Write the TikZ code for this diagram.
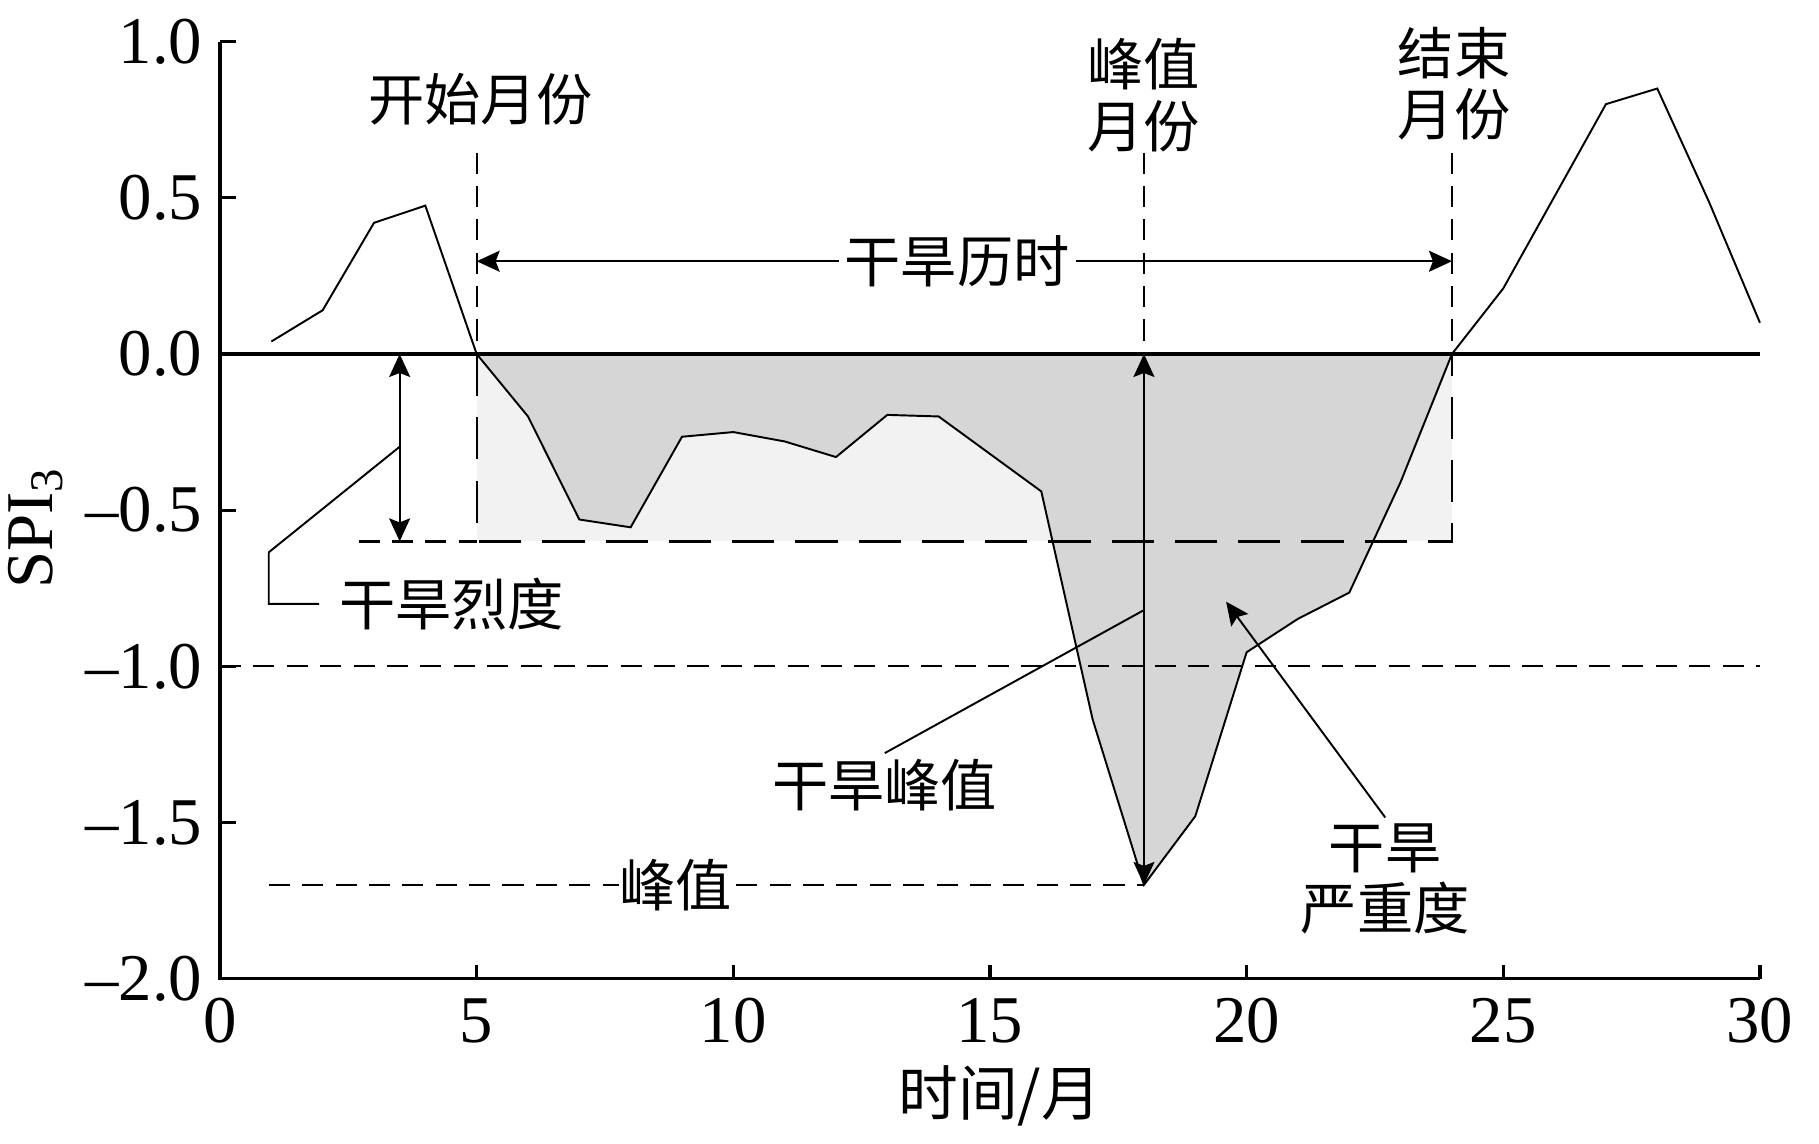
\documentclass[tikz,border=0pt]{standalone}
\usepackage{fontspec}
\setmainfont{Liberation Serif}
\newfontfamily\cjk{Noto Sans CJK SC}
\usetikzlibrary{arrows.meta}
\tikzstyle{series} = [line width=0.55pt, line join=miter]
\tikzstyle{axisline} = [line width=0.9pt]
\tikzstyle{guide} = [line width=0.65pt, dash pattern=on 6pt off 3.5pt]
\tikzstyle{boxline} = [line width=0.65pt, dash pattern=on 12pt off 6pt]
\tikzstyle{span} = [line width=0.55pt, <->]
\tikzstyle{pointer} = [line width=0.55pt, ->]
\tikzstyle{leader} = [line width=0.55pt]
\tikzstyle{tag} = [font=\cjk\fontsize{16}{17.4}\selectfont, align=center, inner sep=1.5pt]
\tikzstyle{num} = [font=\fontsize{19}{19}\selectfont, inner sep=0pt]

\begin{document}
\begin{tikzpicture}[>={Stealth[length=2.3mm,width=2.1mm,inset=0.4mm]}]
\useasboundingbox (0,0) rectangle (18.19,11.43);
\begin{scope}[shift={(2.20,7.89)}, x=0.5133cm, y=3.123cm]
		% drought box and deficit area
		\fill[black!5] (5,0) rectangle (24,-0.6);
		\fill[black!16] (5,0) -- (6,-0.2) -- (7,-0.53) -- (8,-0.555) -- (9,-0.265) -- (10,-0.25) -- (11,-0.28) -- (12,-0.33) -- (13,-0.195) -- (14,-0.2) -- (16,-0.44) -- (17,-1.17) -- (18,-1.7) -- (19,-1.48) -- (20,-0.955) -- (21,-0.848) -- (22,-0.764) -- (23,-0.41) -- (24,0) -- cycle;

		\coordinate (startdrop) at (5,0.645);
		\coordinate (peakdrop) at (18,0.645);
		\coordinate (enddrop) at (24,0.645);
		\coordinate (durL) at (5,0.297);
		\coordinate (durR) at (24,0.297);
		\coordinate (peaktop) at (18,0);
		\coordinate (peakbot) at (18,-1.7);
		\coordinate (pkmeet) at (18,-0.82);
		\coordinate (sevtop) at (3.5,0);
		\coordinate (sevbot) at (3.5,-0.6);
		\coordinate (sevmid) at (3.5,-0.297);
		\coordinate (sevbend) at (0.95,-0.635);
		\coordinate (sevtip) at (19.6,-0.793);

		% guide lines
		\draw[axisline] (0,0) -- (30,0);
		\draw[guide] (0,-1) -- (30,-1);
		\draw[guide] (2.7,-0.6) -- (5,-0.6);
		\draw[boxline] (5,0) -- (5,-0.6) -- (24,-0.6) -- (24,0);
		\draw[guide] (startdrop) -- (5,0);
		\draw[guide] (peakdrop) -- (peaktop);
		\draw[guide] (enddrop) -- (24,0);
		\draw[guide] (0.95,-1.7) -- (peakbot);

		% SPI series
		\draw[series] (1,0.04) -- (2,0.14) -- (3,0.42) -- (4,0.475) -- (5,0) -- (6,-0.2) -- (7,-0.53) -- (8,-0.555) -- (9,-0.265) -- (10,-0.25) -- (11,-0.28) -- (12,-0.33) -- (13,-0.195) -- (14,-0.2) -- (16,-0.44) -- (17,-1.17) -- (18,-1.7) -- (19,-1.48) -- (20,-0.955) -- (21,-0.848) -- (22,-0.764) -- (23,-0.41) -- (24,0) -- (25,0.21) -- (27,0.80) -- (28,0.85) -- (29,0.49) -- (30,0.10);

		% axes
		\draw[axisline] (0,1) -- (0,-2) -- (30,-2);
		\foreach \v/\lbl [count=\i] in {1/1.0, 0.5/0.5, 0/0.0, -0.5/\textendash0.5, -1/\textendash1.0, -1.5/\textendash1.5, -2/\textendash2.0} {
			\draw[axisline] (0,\v) -- ++(0.16cm,0);
			\node[num, anchor=east] (ytick\i) at ([xshift=-0.17cm]0,\v) {\lbl};
		}
		\foreach \t in {0,5,...,30} {
			\draw[axisline] (\t,-2) -- ++(0,0.14cm);
			\node[num, anchor=north] (xtick\t) at ([yshift=-0.19cm]\t,-2) {\t};
		}
		\node[num, rotate=90] (ytitle) at (-3.6,-0.557) {SPI\textsubscript{3}};
		\node[tag, font=\cjk\fontsize{17}{17}\selectfont] (xtitle) at (15.19,-2.375) {时间/月};

		% labels
		\node[tag] (startlbl) at (5.08,0.816) {开始月份};
		\node[tag] (peakmon) at (18,0.829) {峰值\\月份};
		\node[tag] (endmon) at (24.04,0.866) {结束\\月份};
		\node[tag, fill=white] (durlbl) at (14.36,0.297) {干旱历时};
		\node[tag] (sevlbl) at (4.51,-0.80) {干旱烈度};
		\node[tag] (pklbl) at (12.95,-1.38) {干旱峰值};
		\node[tag] (sevtot) at (22.7,-1.68) {干旱\\严重度};
		\node[tag, fill=white, inner xsep=0pt] (pkval) at (8.87,-1.70) {峰值};

		% connectors
		\draw[pointer] (durlbl) -- (durL);
		\draw[pointer] (durlbl) -- (durR);
		\draw[span] (sevbot) -- (sevtop);
		\draw[span] (peakbot) -- (peaktop);
		\draw[leader, shorten <=4pt] (sevlbl.west) -| (sevbend) -- (sevmid);
		\draw[leader] (pklbl.north) -- (pkmeet);
		\draw[pointer] (sevtot.north) -- (sevtip);
\end{scope}
\end{tikzpicture}
\end{document}
